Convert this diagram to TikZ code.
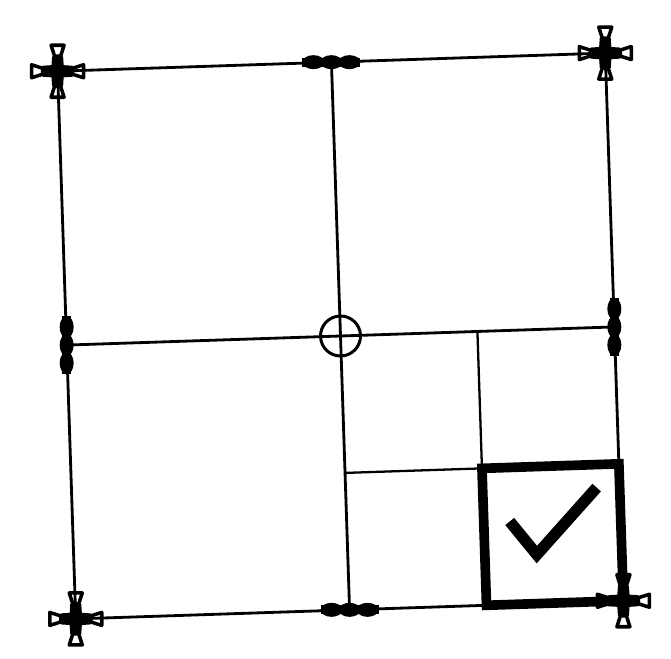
\documentclass[tikz,border=0pt]{standalone}
\tikzset{
  gridline/.style={line width=1.6pt},
  subline/.style={line width=1.3pt},
  boldbox/.style={line width=5.5pt, line join=miter},
  tick/.style={line width=6.5pt, line join=miter},
  pics/cornercross/.style={code={
    \fill (0,0) circle (8);
    \foreach \a in {0,90,180,270}{
      \begin{scope}[rotate=\a]
        \fill (0,-6.5) -- (15,-5.5) -- (15,5.5) -- (0,6.5) -- cycle;
        \draw[line width=2pt, line join=round] (15,-3) -- (26,-6.5) -- (26,6.5) -- (15,3) -- cycle;
      \end{scope}
    }
  }},
  pics/midmark/.style={code={
    \fill (-29,-4.5) rectangle (29,4.5);
    \foreach \d in {-18,0,18}
      \fill (\d,0) ellipse (11 and 7);
  }},
}
\begin{document}
\begin{tikzpicture}[x=0.02cm, y=0.02cm]
  \useasboundingbox (0,0) rectangle (671,-658);
  \begin{scope}[shift={(340.5,-336)}, rotate=1.9]
    % Corners, side points and centre
    \coordinate (TL) at (-274,274);
    \coordinate (TR) at (274,274);
    \coordinate (BR) at (274,-274);
    \coordinate (BL) at (-274,-274);
    \coordinate (T) at (0,274);
    \coordinate (B) at (0,-274);
    \coordinate (L) at (-274,0);
    \coordinate (R) at (274,0);
    \coordinate (C) at (0,0);
    % Points of the divided quarter
    \coordinate (Q) at (137,0);
    \coordinate (P) at (0,-137);
    \coordinate (K) at (137,-137);
    \coordinate (KR) at (274,-137);
    \coordinate (KB) at (137,-274);
    % Tick points
    \coordinate (ck1) at (163,-191);
    \coordinate (ck2) at (189,-225);
    \coordinate (ck3) at (251,-160);

    % Outer square
    \draw[gridline] (TL) -- (TR) -- (BR) -- (BL) -- cycle;
    % Middle lines
    \draw[gridline] (T) -- (B);
    \draw[gridline] (L) -- (R);
    % Divided quarter
    \draw[subline] (Q) -- (K);
    \draw[subline] (P) -- (K);
    % Bold box with tick
    \draw[boldbox] (K) -- (KR) -- (BR) -- (KB) -- cycle;
    \draw[tick] (ck1) -- (ck2) -- (ck3);
    % Centre circle
    \draw[line width=1.7pt] (C) circle (20);
    % Marks
    \foreach \p in {TL,TR,BL,BR} \pic at (\p) {cornercross};
    \pic at (T) {midmark};
    \pic at (B) {midmark};
    \pic[rotate=90] at (L) {midmark};
    \pic[rotate=90] at (R) {midmark};
  \end{scope}
\end{tikzpicture}
\end{document}
